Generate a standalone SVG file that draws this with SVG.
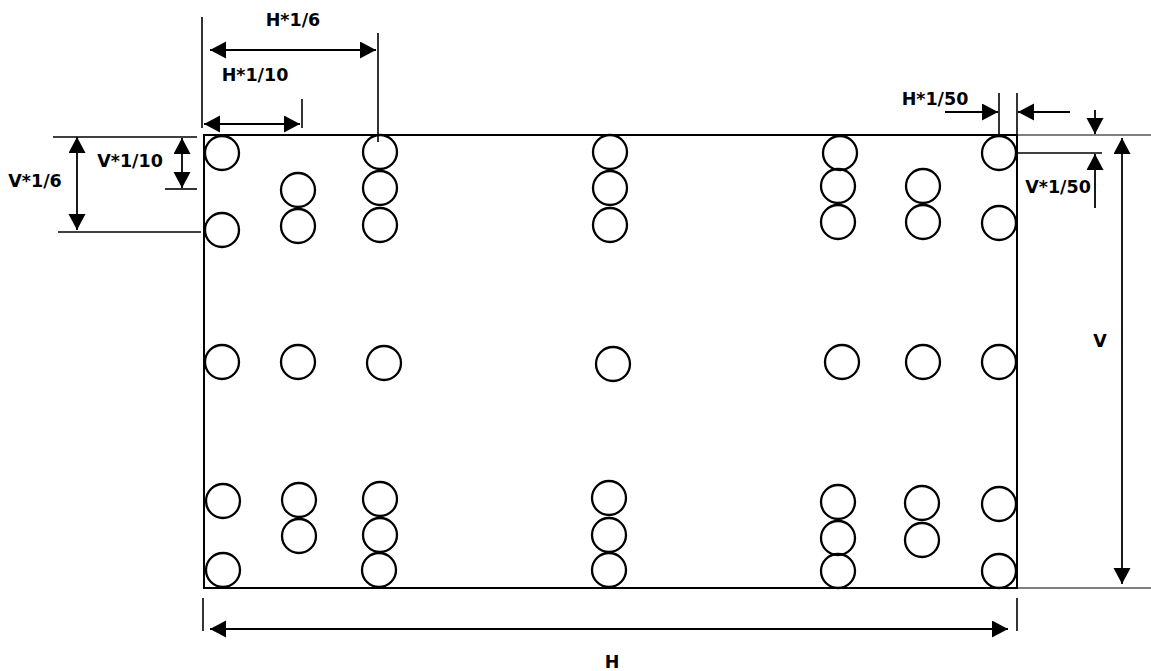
<svg xmlns="http://www.w3.org/2000/svg" width="1151" height="671" viewBox="0 0 1151 671">
<style>
.h{fill:none;stroke:#000;stroke-width:2.3}
.ln{stroke:#000;stroke-width:1.6;fill:none}
.thin{stroke:#000;stroke-width:1.2;fill:none}
.d{stroke:#000;stroke-width:1.8;fill:none}
.t{font-family:"DejaVu Sans",sans-serif;font-weight:bold;font-size:17.5px;fill:#000;text-anchor:middle}
</style>
<defs>
<marker id="a" markerUnits="userSpaceOnUse" markerWidth="17" markerHeight="18" refX="16" refY="8.5" orient="auto-start-reverse" viewBox="0 0 17 18">
<path d="M0,0 L16,8.5 L0,17 z" fill="#000"/>
</marker>
</defs>
<rect width="1151" height="671" fill="#fff"/>
<g id="plate">
<rect x="204" y="135" width="813" height="453" fill="none" stroke="#000" stroke-width="2"/>
</g>
<g id="holes">
<circle class="h" cx="222" cy="153" r="17"/>
<circle class="h" cx="222" cy="230" r="17"/>
<circle class="h" cx="298" cy="190" r="17"/>
<circle class="h" cx="298" cy="226" r="17"/>
<circle class="h" cx="380" cy="152" r="17"/>
<circle class="h" cx="380" cy="188" r="17"/>
<circle class="h" cx="380" cy="225" r="17"/>
<circle class="h" cx="610" cy="152" r="17"/>
<circle class="h" cx="610" cy="188" r="17"/>
<circle class="h" cx="610" cy="225" r="17"/>
<circle class="h" cx="840" cy="153" r="17"/>
<circle class="h" cx="838" cy="186" r="17"/>
<circle class="h" cx="838" cy="222" r="17"/>
<circle class="h" cx="923" cy="186" r="17"/>
<circle class="h" cx="923" cy="222" r="17"/>
<circle class="h" cx="999" cy="153" r="17"/>
<circle class="h" cx="999" cy="223" r="17"/>
<circle class="h" cx="222" cy="362" r="17"/>
<circle class="h" cx="298" cy="362" r="17"/>
<circle class="h" cx="384" cy="363" r="17"/>
<circle class="h" cx="613" cy="364" r="17"/>
<circle class="h" cx="842" cy="362" r="17"/>
<circle class="h" cx="923" cy="362" r="17"/>
<circle class="h" cx="999" cy="362" r="17"/>
<circle class="h" cx="223" cy="501" r="17"/>
<circle class="h" cx="223" cy="570" r="17"/>
<circle class="h" cx="299" cy="500" r="17"/>
<circle class="h" cx="299" cy="536" r="17"/>
<circle class="h" cx="380" cy="499" r="17"/>
<circle class="h" cx="380" cy="535" r="17"/>
<circle class="h" cx="379" cy="570" r="17"/>
<circle class="h" cx="609" cy="498" r="17"/>
<circle class="h" cx="609" cy="535" r="17"/>
<circle class="h" cx="609" cy="570" r="17"/>
<circle class="h" cx="838" cy="502" r="17"/>
<circle class="h" cx="838" cy="538" r="17"/>
<circle class="h" cx="838" cy="571" r="17"/>
<circle class="h" cx="922" cy="503" r="17"/>
<circle class="h" cx="922" cy="540" r="17"/>
<circle class="h" cx="999" cy="504" r="17"/>
<circle class="h" cx="999" cy="571" r="17"/>
</g>
<g id="connectors">
<line class="ln" x1="202" y1="17" x2="202" y2="128"/>
<line class="ln" x1="378" y1="33" x2="378" y2="142"/>
<line class="ln" x1="302" y1="99" x2="302" y2="128"/>
<line class="ln" x1="53" y1="137" x2="197" y2="137"/>
<line class="ln" x1="58" y1="232" x2="201" y2="232"/>
<line class="ln" x1="165" y1="189" x2="197" y2="189"/>
<line class="ln" x1="999" y1="93" x2="999" y2="134"/>
<line class="ln" x1="1017" y1="93" x2="1017" y2="134"/>
<line class="thin" x1="1017" y1="135" x2="1151" y2="135"/>
<line class="ln" x1="1017" y1="153" x2="1102" y2="153"/>
<line class="thin" x1="1017" y1="588" x2="1151" y2="588"/>
<line class="ln" x1="203" y1="598" x2="203" y2="631"/>
<line class="ln" x1="1017" y1="598" x2="1017" y2="631"/>
<line class="d" x1="210" y1="50" x2="376" y2="50" marker-start="url(#a)" marker-end="url(#a)"/>
<line class="d" x1="204" y1="124" x2="300" y2="124" marker-start="url(#a)" marker-end="url(#a)"/>
<line class="d" x1="77" y1="137" x2="77" y2="230" marker-start="url(#a)" marker-end="url(#a)"/>
<line class="d" x1="182" y1="138" x2="182" y2="188" marker-start="url(#a)" marker-end="url(#a)"/>
<line class="d" x1="945" y1="112" x2="998" y2="112" marker-end="url(#a)"/>
<line class="d" x1="1070" y1="112" x2="1018" y2="112" marker-end="url(#a)"/>
<line class="d" x1="1095" y1="110" x2="1095" y2="134" marker-end="url(#a)"/>
<line class="d" x1="1095" y1="208" x2="1095" y2="154" marker-end="url(#a)"/>
<line class="d" x1="1122" y1="138" x2="1122" y2="584" marker-start="url(#a)" marker-end="url(#a)"/>
<line class="d" x1="210" y1="629" x2="1008" y2="629" marker-start="url(#a)" marker-end="url(#a)"/>
</g>
<g id="labels">
<text class="t" x="293" y="26">H*1/6</text>
<text class="t" x="255" y="81">H*1/10</text>
<text class="t" x="35" y="187">V*1/6</text>
<text class="t" x="130" y="167">V*1/10</text>
<text class="t" x="935" y="105">H*1/50</text>
<text class="t" x="1058" y="193">V*1/50</text>
<text class="t" x="1100" y="347">V</text>
<text class="t" x="612" y="668">H</text>
</g>
</svg>
